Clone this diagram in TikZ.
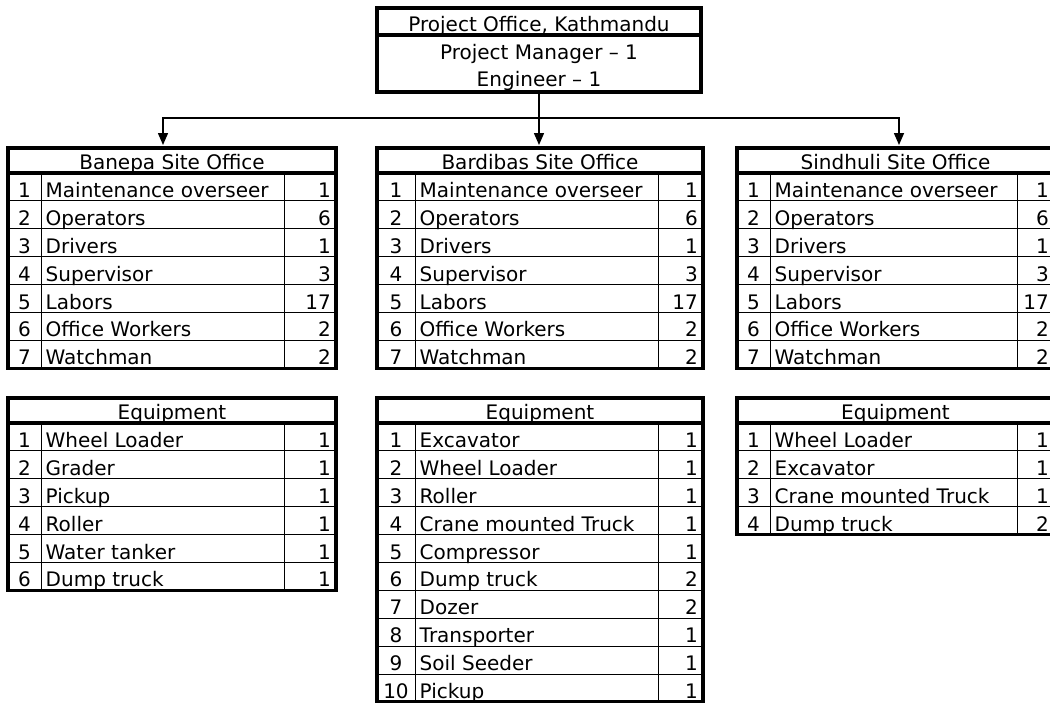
\documentclass[tikz,border=0pt]{standalone}
\usepackage{fontspec}
\setmainfont{DejaVu Sans}
\usetikzlibrary{arrows.meta}
\newcommand{\rh}{27.9}
\tikzset{
  celltext/.style={inner sep=0pt, font=\fontsize{20}{24}\selectfont},
  outerline/.style={line width=3.2pt, line cap=rect},
  innerline/.style={line width=1pt},
  conn/.style={line width=1.5pt, -{Triangle[width=10pt,length=12pt]}, shorten >=1pt},
}
% #1 id, #2 left, #3 number divider, #4 qty divider, #5 right, #6 top, #7 title, #8 rows, #9 items
\newcommand{\orgtable}[9]{%
  \pgfmathsetmacro{\tb}{#6+25}%
  \pgfmathsetmacro{\bt}{#6+25+#8*\rh}%
  \node[celltext, anchor=base] (#1-title) at ({(#2+#5)/2},\tb-3.5) {#7};
  \foreach \n/\t/\q [count=\i] in {#9}{%
    \pgfmathsetmacro{\yb}{\tb+\i*\rh}%
    \node[celltext, anchor=base] (#1-n\i) at ({(#2+#3)/2},\yb-3.5) {\n};
    \node[celltext, anchor=base west] (#1-t\i) at (#3+4.5,\yb-3.5) {\t};
    \node[celltext, anchor=base east] (#1-q\i) at (#5-5,\yb-3.5) {\q};
    \ifnum\i<#8\relax \draw[innerline] (#2,\yb) -- (#5,\yb);\fi
  }
  \draw[innerline] (#3,\tb) -- (#3,\bt);
  \draw[innerline] (#4,\tb) -- (#4,\bt);
  \draw[outerline] (#2,\tb) -- (#5,\tb);
  \draw[outerline] (#2,#6) rectangle (#5,\bt);
}
\begin{document}
\begin{tikzpicture}[x=1pt, y=-1pt]
\useasboundingbox (0,0) rectangle (1050,702);
\clip (0,0) rectangle (1050,702);

% Project office
\node[outerline, draw, minimum width=324pt, minimum height=84pt, inner sep=0pt, outer sep=0pt, anchor=north west] (top) at (377,8) {};
\draw[outerline] (377,35) -- (701,35);
\node[celltext, anchor=base] (top-title) at (539,31) {Project Office, Kathmandu};
\node[celltext, anchor=base] (top-pm) at (539,59) {Project Manager -- 1};
\node[celltext, anchor=base] (top-eng) at (539,86.5) {Engineer -- 1};

% site offices
\orgtable{ban}{8}{41}{284}{336}{148}{Banepa Site Office}{7}{1/Maintenance overseer/1, 2/Operators/6, 3/Drivers/1, 4/Supervisor/3, 5/Labors/17, 6/Office Workers/2, 7/Watchman/2}
\orgtable{bar}{377}{415}{658}{703}{148}{Bardibas Site Office}{7}{1/Maintenance overseer/1, 2/Operators/6, 3/Drivers/1, 4/Supervisor/3, 5/Labors/17, 6/Office Workers/2, 7/Watchman/2}
\orgtable{sin}{737}{770}{1017}{1054}{148}{Sindhuli Site Office}{7}{1/Maintenance overseer/1, 2/Operators/6, 3/Drivers/1, 4/Supervisor/3, 5/Labors/17, 6/Office Workers/2, 7/Watchman/2}

% equipment
\orgtable{banE}{8}{41}{284}{336}{398}{Equipment}{6}{1/Wheel Loader/1, 2/Grader/1, 3/Pickup/1, 4/Roller/1, 5/Water tanker/1, 6/Dump truck/1}
\orgtable{barE}{377}{415}{658}{703}{398}{Equipment}{10}{1/Excavator/1, 2/Wheel Loader/1, 3/Roller/1, 4/Crane mounted Truck/1, 5/Compressor/1, 6/Dump truck/2, 7/Dozer/2, 8/Transporter/1, 9/Soil Seeder/1, 10/Pickup/1}
\orgtable{sinE}{737}{770}{1017}{1054}{398}{Equipment}{4}{1/Wheel Loader/1, 2/Excavator/1, 3/Crane mounted Truck/1, 4/Dump truck/2}

% connectors
\coordinate (hub) at (539,118);
\coordinate (banIn) at (163,146);
\coordinate (barIn) at (539,146);
\coordinate (sinIn) at (899,146);
\draw[conn] (top.south) -- (barIn);
\draw[conn] (hub) -| (banIn);
\draw[conn] (hub) -| (sinIn);
\end{tikzpicture}
\end{document}
